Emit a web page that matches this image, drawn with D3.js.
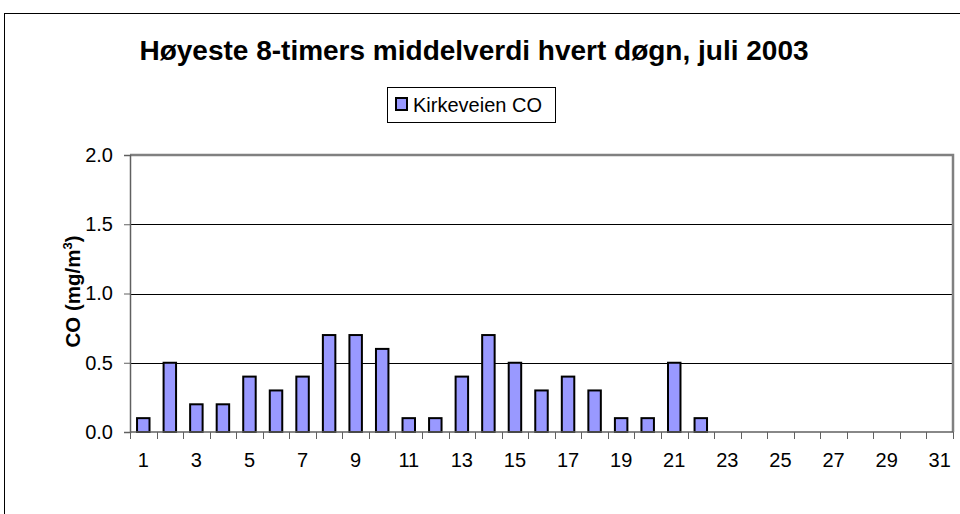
<!DOCTYPE html>
<html>
<head>
<meta charset="utf-8">
<script src="https://cdn.jsdelivr.net/npm/d3@7"></script>
<style>
html,body{margin:0;padding:0;background:#fff;}
svg{display:block;font-family:"Liberation Sans",Arial,sans-serif;}
</style>
</head>
<body>
<svg id="chart" width="960" height="514"></svg>
<script>
const days = d3.range(1, 32);
const values = [0.1,0.5,0.2,0.2,0.4,0.3,0.4,0.7,0.7,0.6,0.1,0.1,0.4,0.7,0.5,0.3,0.4,0.3,0.1,0.1,0.5,0.1,
  null,null,null,null,null,null,null,null,null];
const yTicks = [0.0,0.5,1.0,1.5,2.0];
const xTickLabels = days.filter(d => d % 2 === 1);
const seriesName = "Kirkeveien CO";
const titleText = "Høyeste 8-timers middelverdi hvert døgn, juli 2003";

const svg = d3.select("#chart");
const plot = {left:130, right:953, top:155, bottom:432};
const FONT = "Liberation Sans, Arial, sans-serif";

// outer chart border
svg.append("rect").attr("x",4.5).attr("y",13.5).attr("width",1000).attr("height",600)
  .attr("fill","#fff").attr("stroke","#000").attr("stroke-width",1);

const pad = 0.53;
const x = d3.scaleBand().domain(days).range([plot.left, plot.right]).paddingInner(pad).paddingOuter(pad/2);
const y = d3.scaleLinear().domain([0,2]).range([plot.bottom, plot.top]);

// gridlines
svg.append("g").selectAll("line").data(yTicks.filter(v => v>0 && v<2)).join("line")
  .attr("x1",plot.left).attr("x2",plot.right)
  .attr("y1",d=>Math.round(y(d))+0.5).attr("y2",d=>Math.round(y(d))+0.5)
  .attr("stroke","#000").attr("stroke-width",1);

// plot border top/right gray
svg.append("path")
  .attr("d",`M${plot.left},${plot.top}H${plot.right}V${plot.bottom}`)
  .attr("fill","none").attr("stroke","#808080").attr("stroke-width",2.5);

// bars
svg.append("g").selectAll("rect").data(days.map((d,i)=>({d, v:values[i]})).filter(o=>o.v!==null)).join("rect")
  .attr("x",o=>x(o.d)).attr("width",x.bandwidth())
  .attr("y",o=>y(o.v)).attr("height",o=>y(0)-y(o.v))
  .attr("fill","#9999FF").attr("stroke","#000").attr("stroke-width",2);

// y axis
const yAxis = d3.axisLeft(y).tickValues(yTicks).tickFormat(d3.format(".1f")).tickSize(6).tickPadding(11);
const gy = svg.append("g").attr("transform",`translate(${plot.left},0)`).call(yAxis);
gy.select(".domain").attr("stroke","#606060").attr("stroke-width",1.5);
gy.selectAll(".tick line").attr("stroke","#606060");
gy.selectAll(".tick text").attr("font-size",20).attr("fill","#000").attr("font-family",FONT);

// x axis: labels
const xAxis = d3.axisBottom(x).tickValues(xTickLabels).tickSize(0).tickPadding(21);
const gx = svg.append("g").attr("transform",`translate(0,${plot.bottom})`).call(xAxis);
gx.select(".domain").remove();
gx.selectAll(".tick text").attr("font-size",20).attr("fill","#000").attr("font-family",FONT);
// x axis line and boundary ticks
const bounds = days.map(d => x(d) - x.step()*pad/2).concat([plot.right]);
svg.append("line").attr("x1",plot.left).attr("x2",plot.right)
  .attr("y1",plot.bottom).attr("y2",plot.bottom).attr("stroke","#606060").attr("stroke-width",1.5);
svg.append("g").selectAll("line").data(bounds).join("line")
  .attr("x1",d=>Math.round(d)+0.5).attr("x2",d=>Math.round(d)+0.5)
  .attr("y1",plot.bottom).attr("y2",plot.bottom+7).attr("stroke","#606060").attr("stroke-width",1);

// title
svg.append("text").attr("x",474).attr("y",60).attr("text-anchor","middle")
  .attr("font-size",28).attr("font-weight","bold").text(titleText);

// y label
const yl = svg.append("text").attr("transform",`translate(80,${(plot.top+plot.bottom)/2 - 2}) rotate(-90)`)
  .attr("text-anchor","middle").attr("font-size",20.5).attr("font-weight","bold");
yl.append("tspan").text("CO (mg/m");
yl.append("tspan").attr("font-size",13).attr("dy",-8).text("3");
yl.append("tspan").attr("dy",8).text(")");

// legend
const lg = svg.append("g");
lg.append("rect").attr("x",387.5).attr("y",87.5).attr("width",168).attr("height",35)
  .attr("fill","#fff").attr("stroke","#000").attr("stroke-width",1);
lg.append("rect").attr("x",396).attr("y",98).attr("width",11).attr("height",12)
  .attr("fill","#9999FF").attr("stroke","#000").attr("stroke-width",2);
lg.append("text").attr("x",413).attr("y",112).attr("font-size",20).text(seriesName);
</script>
</body>
</html>
